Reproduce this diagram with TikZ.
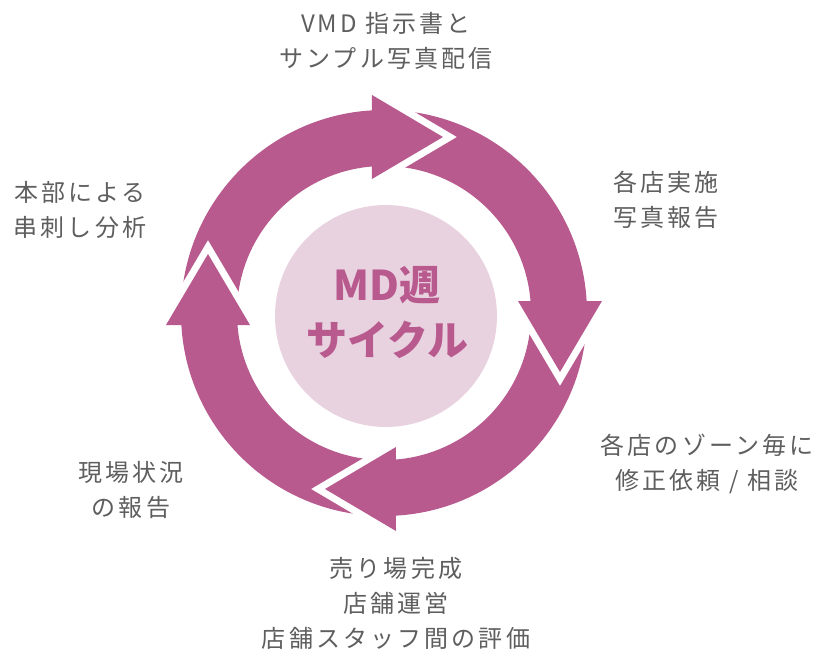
\documentclass[tikz,border=0pt]{standalone}
\usepackage{fontspec}
\setmainfont{Noto Sans CJK JP}
\newfontfamily\labelfont{Noto Sans CJK JP}[LetterSpace=13]
\definecolor{ringpurple}{HTML}{B95A8F}
\definecolor{corepink}{HTML}{E9D2E0}
\definecolor{labelgray}{HTML}{5E5E5E}
\begin{document}
\begin{tikzpicture}[x=1pt, y=1pt,
	step label/.style={align=center, inner sep=0pt, text=labelgray, font=\labelfont\fontsize{24}{35}\selectfont},
	core label/.style={align=center, inner sep=0pt, text=ringpurple, font=\bfseries\fontsize{41}{55}\selectfont}]
	\useasboundingbox (-384,-341) rectangle (439,313);
		% ring of four arrows
		\fill[ringpurple, even odd rule] (0,0) circle (203pt) (0,0) circle (147pt);
		\foreach \a in {0,-90,-180,-270} {
			\begin{scope}[rotate=\a]
				\draw[white, line width=14pt, line join=miter] (-12,218) -- (59,176) -- (-12,134);
				\fill[ringpurple] (-12,218) -- (59,176) -- (-12,134) -- cycle;
			\end{scope}
		}
		\fill[corepink] (2,-3) circle (111pt);
		\node[core label] (core) at (3,1) {MD週\\サイクル};
		\node[step label] (send) at (2,272) {VMD 指示書と\\サンプル写真配信};
		\node[step label] (shops) at (282,113.5) {各店実施\\写真報告};
		\node[step label] (fix) at (323,-150.5) {各店のゾーン毎に\\修正依頼 / 相談};
		\node[step label] (done) at (12,-290) {売り場完成\\店舗運営\\店舗スタッフ間の評価};
		\node[step label] (site) at (-253,-176.5) {現場状況\\の報告};
		\node[step label] (hq) at (-304,103.5) {本部による\\串刺し分析};
	\end{tikzpicture}
\end{document}
